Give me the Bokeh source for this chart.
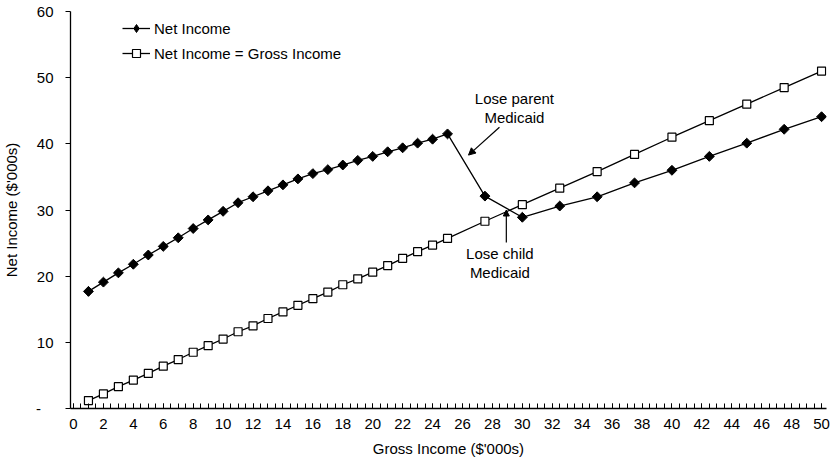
import numpy as np
from bokeh.plotting import figure
from bokeh.models import FixedTicker, Label, Arrow, NormalHead, Range1d, Legend, LegendItem
from bokeh.embed import file_html
from bokeh.resources import INLINE

# ---- data ----
gross_income = [1, 2, 3, 4, 5, 6, 7, 8, 9, 10, 11, 12, 13, 14, 15, 16, 17, 18, 19, 20,
                21, 22, 23, 24, 25, 27.5, 30, 32.5, 35, 37.5, 40, 42.5, 45, 47.5, 50]
net_income = [17.7, 19.1, 20.5, 21.8, 23.2, 24.5, 25.8, 27.2, 28.5, 29.8, 31.1, 32.0, 32.9,
              33.8, 34.7, 35.5, 36.1, 36.8, 37.5, 38.1, 38.8, 39.4, 40.1, 40.7, 41.5,
              32.1, 28.9, 30.6, 32.0, 34.1, 36.0, 38.1, 40.1, 42.2, 44.1]
net_eq_gross = [1.2, 2.2, 3.3, 4.3, 5.3, 6.4, 7.4, 8.5, 9.5, 10.5, 11.6, 12.5, 13.6, 14.6,
                15.6, 16.6, 17.6, 18.7, 19.6, 20.6, 21.6, 22.7, 23.7, 24.7, 25.7,
                28.3, 30.8, 33.3, 35.8, 38.4, 41.0, 43.5, 46.0, 48.5, 51.0]
x_ticks = list(range(0, 51, 2))
y_ticks = [0, 10, 20, 30, 40, 50, 60]
series_names = ["Net Income", "Net Income = Gross Income"]

FONT = "Liberation Sans"
FS = "15px"

p = figure(width=836, height=465, output_backend="svg", toolbar_location=None,
           x_range=Range1d(-0.2, 50.33), y_range=Range1d(0, 60),
           min_border_left=68, min_border_right=10, min_border_top=11, min_border_bottom=57)
p.outline_line_color = None
p.grid.visible = False
p.background_fill_color = "white"

# series
l1 = p.line(gross_income, net_income, line_color="black", line_width=1.3)
# diamond glyph used as the legend symbol (hidden under the first plotted marker)
d1 = p.scatter(gross_income[:1], net_income[:1], marker="diamond", size=9.5,
               fill_color="black", line_color="black")
p.scatter(gross_income, net_income, marker="square", angle=np.pi / 4, size=7,
          fill_color="black", line_color="black")
l2 = p.line(gross_income, net_eq_gross, line_color="black", line_width=1.3)
s2 = p.scatter(gross_income, net_eq_gross, marker="square", size=8, fill_color="white",
               line_color="black", line_width=1.2)

# axes
xa = p.xaxis[0]
xa.ticker = FixedTicker(ticks=x_ticks, minor_ticks=list(np.arange(0, 50.5, 0.5)))
xa.major_tick_in = 5
xa.major_tick_out = 0
xa.minor_tick_in = 5
xa.minor_tick_out = 0
xa.axis_line_width = 1.3
xa.major_label_standoff = 10
xa.axis_label = "Gross Income ($'000s)"
xa.axis_label_standoff = 8

ya = p.yaxis[0]
ya.ticker = FixedTicker(ticks=y_ticks)
ya.major_tick_in = 0
ya.major_tick_out = 5
ya.minor_tick_in = 0
ya.minor_tick_out = 0
ya.axis_line_width = 1.3
ya.major_label_standoff = 12
ya.major_label_overrides = {0: "-\u00a0\u00a0\u00a0"}
ya.axis_label = "Net Income ($'000s)"
ya.axis_label_standoff = 13

for ax in (xa, ya):
    ax.major_label_text_font = FONT
    ax.major_label_text_font_size = FS
    ax.major_label_text_color = "black"
    ax.axis_label_text_font = FONT
    ax.axis_label_text_font_size = FS
    ax.axis_label_text_font_style = "normal"
    ax.axis_label_text_color = "black"
    ax.axis_line_color = "black"
    ax.major_tick_line_color = "black"
    ax.minor_tick_line_color = "black"

# legend
lg = Legend(items=[LegendItem(label=series_names[0], renderers=[l1, d1]),
                   LegendItem(label=series_names[1], renderers=[l2, s2])],
            location=(52, 345))
lg.border_line_color = None
lg.background_fill_alpha = 0
lg.padding = 0
lg.margin = 0
lg.spacing = 5
lg.label_height = 20
lg.glyph_height = 20
lg.glyph_width = 28
lg.label_standoff = 4
lg.label_text_font = FONT
lg.label_text_font_size = FS
lg.label_text_color = "black"
p.add_layout(lg, "center")

# annotations
def lab(x, y, t):
    p.add_layout(Label(x=x, y=y, text=t, text_align="center", text_baseline="middle",
                       text_font=FONT, text_font_size=FS, text_color="black"))

lab(29.47, 46.9, "Lose parent")
lab(29.47, 44.0, "Medicaid")
lab(28.5, 23.4, "Lose child")
lab(28.5, 20.5, "Medicaid")

p.add_layout(Arrow(x_start=28.47, y_start=42.5, x_end=26.4, y_end=38.3,
                   line_color="black", line_width=1.2,
                   end=NormalHead(size=7, fill_color="black", line_color="black")))
p.add_layout(Arrow(x_start=28.93, y_start=25.1, x_end=28.93, y_end=30.0,
                   line_color="black", line_width=1.2,
                   end=NormalHead(size=6, fill_color="black", line_color="black")))

open("out.html", "w").write(file_html(p, INLINE))
